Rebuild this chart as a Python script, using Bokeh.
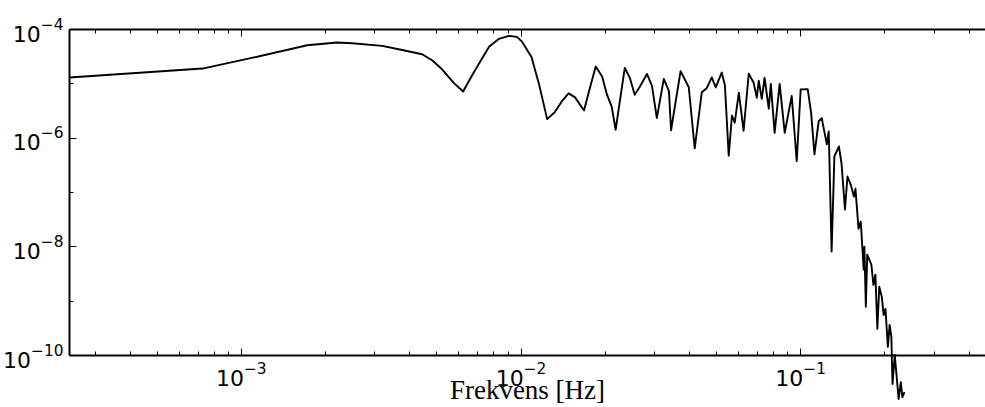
from bokeh.plotting import figure
from bokeh.models import LogAxis, FixedTicker, Range1d
from bokeh.embed import file_html
from bokeh.resources import INLINE

freq_hz = [2.43e-4, 7.26e-4, 1.09e-3, 1.72e-3, 2.20e-3, 2.49e-3, 3.19e-3, 3.76e-3, 4.43e-3, 4.81e-3,
           5.22e-3, 5.77e-3, 6.21e-3, 6.68e-3, 7.08e-3, 7.69e-3, 8.34e-3, 9.06e-3, 9.68e-3, 1.01e-2,
           1.09e-2, 1.16e-2, 1.24e-2, 1.32e-2, 1.40e-2, 1.48e-2, 1.56e-2, 1.68e-2, 1.75e-2, 1.85e-2,
           1.95e-2, 2.03e-2, 2.11e-2, 2.18e-2, 2.35e-2, 2.45e-2, 2.55e-2, 2.66e-2, 2.82e-2, 2.94e-2,
           3.06e-2, 3.24e-2, 3.38e-2, 3.44e-2, 3.72e-2, 3.98e-2, 4.18e-2, 4.43e-2, 4.61e-2, 4.81e-2,
           4.97e-2, 5.22e-2, 5.36e-2, 5.53e-2, 5.68e-2, 5.81e-2, 6.01e-2, 6.25e-2, 6.52e-2, 6.79e-2,
           6.97e-2, 7.08e-2, 7.26e-2, 7.43e-2, 7.69e-2, 7.82e-2, 8.07e-2, 8.41e-2, 8.77e-2, 9.00e-2,
           9.29e-2, 9.68e-2, 1.00e-1, 1.06e-1, 1.09e-1, 1.12e-1, 1.16e-1, 1.19e-1, 1.24e-1, 1.26e-1,
           1.29e-1, 1.32e-1, 1.37e-1, 1.40e-1, 1.44e-1, 1.47e-1, 1.51e-1, 1.55e-1, 1.57e-1, 1.61e-1,
           1.64e-1, 1.68e-1, 1.69e-1, 1.71e-1, 1.73e-1, 1.79e-1, 1.82e-1, 1.85e-1, 1.88e-1, 1.91e-1,
           1.95e-1, 1.98e-1, 2.01e-1, 2.05e-1, 2.08e-1, 2.11e-1, 2.13e-1, 2.17e-1, 2.20e-1, 2.24e-1,
           2.28e-1, 2.31e-1, 2.35e-1]

psd = [1.31e-5, 1.91e-5, 3.0e-5, 5.12e-5, 5.76e-5, 5.6e-5, 4.99e-5, 4.19e-5, 3.51e-5, 2.71e-5,
       1.85e-5, 1.02e-5, 7.21e-6, 1.42e-5, 2.36e-5, 4.82e-5, 6.74e-5, 7.62e-5, 7.31e-5, 5.91e-5,
       3.12e-5, 9.87e-6, 2.24e-6, 3.0e-6, 4.79e-6, 6.68e-6, 5.64e-6, 3.24e-6, 7.24e-6, 2.08e-5,
       1.36e-5, 6.32e-6, 3.8e-6, 1.43e-6, 1.97e-5, 1.29e-5, 6.27e-6, 8.81e-6, 1.52e-5, 9.15e-6,
       2.34e-6, 1.23e-5, 7.34e-6, 1.40e-6, 1.71e-5, 8.65e-6, 6.49e-7, 6.97e-6, 8.26e-6, 1.31e-5,
       8.59e-6, 1.61e-5, 9.31e-6, 4.78e-7, 2.61e-6, 1.93e-6, 6.89e-6, 1.37e-6, 1.53e-5, 1.05e-5,
       5.55e-6, 1.14e-5, 5.3e-6, 1.29e-5, 3.47e-6, 1.0e-5, 1.25e-6, 9.95e-6, 1.25e-6, 2.55e-6,
       5.96e-6, 3.79e-7, 7.92e-6, 7.94e-6, 2.89e-6, 5.05e-7, 2.05e-6, 2.32e-6, 7.69e-7, 1.33e-6,
       8.22e-9, 4.62e-7, 7.03e-7, 3.42e-7, 4.86e-8, 1.97e-7, 1.40e-7, 8.41e-8, 1.18e-7, 2.16e-8,
       2.91e-8, 3.8e-9, 1.01e-8, 7.89e-10, 7.16e-9, 4.68e-9, 2.0e-9, 3.06e-9, 3.1e-10, 1.84e-9,
       1.2e-9, 5.6e-10, 7.21e-10, 1.44e-10, 3.66e-10, 2.19e-10, 2.99e-11, 1.02e-10, 4.56e-11, 1.58e-11,
       3.24e-11, 1.71e-11, 2.12e-11]

x_major_ticks = [1e-3, 1e-2, 1e-1]
x_minor_ticks = [m * 10.0 ** e for e in (-4, -3, -2, -1) for m in range(2, 10)]
y_major_ticks = [1e-10, 1e-8, 1e-6, 1e-4]
y_minor_ticks = [1e-9, 1e-7, 1e-5]
x_label = "Frekvens [Hz]"

p = figure(width=985, height=407, x_axis_type="log", y_axis_type="log",
           x_range=Range1d(2.43e-4, 0.458), y_range=Range1d(1e-10, 1e-4),
           output_backend="svg", toolbar_location=None,
           min_border_left=67, min_border_top=29, min_border_bottom=52, min_border_right=0)
p.outline_line_color = None
p.grid.visible = False
p.background_fill_color = "white"
p.border_fill_color = "white"

r = p.line(freq_hz, psd, line_color="black", line_width=1.9, line_join="round")
r.level = "overlay"

xa = p.xaxis[0]
xa.ticker = FixedTicker(ticks=x_major_ticks, minor_ticks=x_minor_ticks)
xa.axis_label = x_label
xa.axis_label_text_font = "Liberation Serif"
xa.axis_label_text_font_style = "normal"
xa.axis_label_text_font_size = "27px"
xa.axis_label_text_color = "black"
xa.axis_label_standoff = -14
xa.major_label_text_font = "DejaVu Sans"
xa.major_label_text_font_size = "22px"
xa.major_label_standoff = 6

ya = p.yaxis[0]
ya.ticker = FixedTicker(ticks=y_major_ticks, minor_ticks=y_minor_ticks)
ya.major_label_text_font = "DejaVu Sans"
ya.major_label_text_font_size = "22px"
ya.major_label_standoff = 6

for ax in (xa, ya):
    ax.axis_line_width = 2
    ax.axis_line_color = "black"
    ax.major_tick_in = 7
    ax.major_tick_out = 0
    ax.minor_tick_in = 4
    ax.minor_tick_out = 0
    ax.major_tick_line_color = "black"
    ax.minor_tick_line_color = "black"
    ax.major_label_text_color = "black"

top = LogAxis(ticker=FixedTicker(ticks=x_major_ticks, minor_ticks=x_minor_ticks))
top.axis_line_width = 2
top.major_tick_in = 7
top.major_tick_out = 0
top.minor_tick_in = 4
top.minor_tick_out = 0
top.major_label_text_font_size = "2px"
top.major_label_text_alpha = 0
p.add_layout(top, "above")

open("out.html", "w").write(file_html(p, INLINE))
